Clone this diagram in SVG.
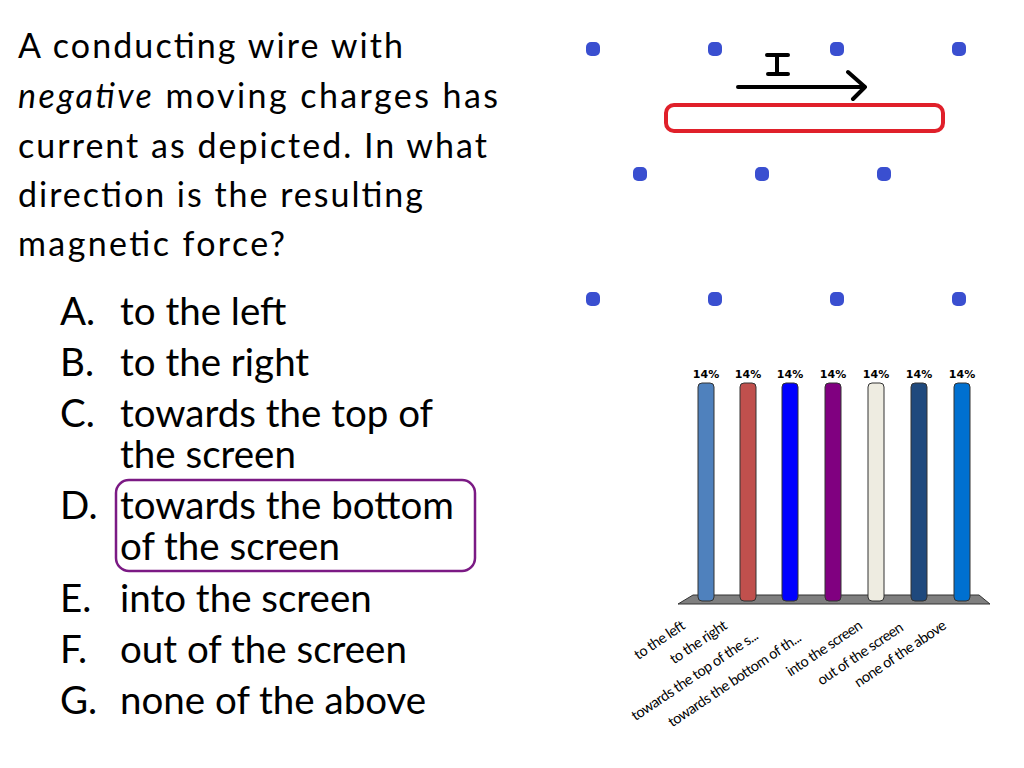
<svg xmlns="http://www.w3.org/2000/svg" width="1024" height="768" viewBox="0 0 1024 768">
<style>
.t{font-family:Lato,"Liberation Sans",sans-serif;font-size:34px;fill:#000}
.o{font-family:Lato,"Liberation Sans",sans-serif;font-size:38.5px;fill:#000}
.p{font-family:"DejaVu Sans",sans-serif;font-size:11px;font-weight:bold;text-anchor:middle}
.l{font-family:Lato,"Liberation Sans",sans-serif;font-size:14.5px;text-anchor:end;letter-spacing:-0.5px}
.d{fill:#3a4fd0}
.b{stroke:#333;stroke-width:1}
</style>
<rect width="1024" height="768" fill="#fff"/>
<g id="question">
<text class="t" x="18" y="58" textLength="385">A conducting wire with</text>
<text class="t" x="18" y="108" textLength="480"><tspan font-style="italic">negative</tspan> moving charges has</text>
<text class="t" x="18" y="158" textLength="469">current as depicted. In what</text>
<text class="t" x="18" y="207" textLength="405">direction is the resulting</text>
<text class="t" x="18" y="256" textLength="267">magnetic force?</text>
</g>
<g id="options">
<text class="o" x="60" y="325">A.</text><text class="o" x="120" y="325">to the left</text>
<text class="o" x="60" y="376">B.</text><text class="o" x="120" y="376">to the right</text>
<text class="o" x="60" y="427">C.</text><text class="o" x="120" y="427">towards the top of</text>
<text class="o" x="120" y="468">the screen</text>
<text class="o" x="60" y="519">D.</text><text class="o" x="120" y="519">towards the bottom</text>
<text class="o" x="120" y="560">of the screen</text>
<text class="o" x="60" y="612">E.</text><text class="o" x="120" y="612">into the screen</text>
<text class="o" x="60" y="663">F.</text><text class="o" x="120" y="663">out of the screen</text>
<text class="o" x="60" y="714">G.</text><text class="o" x="120" y="714">none of the above</text>
<rect x="116" y="480" width="359" height="91" rx="13" fill="none" stroke="#7b1a84" stroke-width="2.5"/>
</g>
<g id="field">
<rect class="d" x="586" y="42" width="14" height="14" rx="5"/>
<rect class="d" x="708" y="42" width="14" height="14" rx="5"/>
<rect class="d" x="830" y="42" width="14" height="14" rx="5"/>
<rect class="d" x="952" y="42" width="14" height="14" rx="5"/>
<rect class="d" x="633" y="167" width="14" height="14" rx="5"/>
<rect class="d" x="755" y="167" width="14" height="14" rx="5"/>
<rect class="d" x="877" y="167" width="14" height="14" rx="5"/>
<rect class="d" x="586" y="292" width="14" height="14" rx="5"/>
<rect class="d" x="708" y="292" width="14" height="14" rx="5"/>
<rect class="d" x="830" y="292" width="14" height="14" rx="5"/>
<rect class="d" x="952" y="292" width="14" height="14" rx="5"/>
<rect x="666" y="105" width="277" height="26" rx="8" fill="none" stroke="#e0202a" stroke-width="4"/>
<path d="M738,87 H865 M848,72 L865,87 L853,99" fill="none" stroke="#000" stroke-width="4" stroke-linecap="round" stroke-linejoin="round"/>
<path d="M767,55 H788 M777,55 V74 M768,74 H788" fill="none" stroke="#000" stroke-width="4" stroke-linecap="round"/>
</g>
<g id="chart">
<polygon points="693,595 979,595 990,604 678,604" fill="#7f7f7f" stroke="#333" stroke-width="1"/>
<rect class="b" x="698" y="383" width="16" height="218" rx="4" fill="#4f81bd"/>
<rect class="b" x="740" y="383" width="16" height="218" rx="4" fill="#c0504d"/>
<rect class="b" x="782" y="383" width="16" height="218" rx="4" fill="#0000ff"/>
<rect class="b" x="825" y="383" width="16" height="218" rx="4" fill="#800080"/>
<rect class="b" x="868" y="383" width="16" height="218" rx="4" fill="#eeece1"/>
<rect class="b" x="911" y="383" width="16" height="218" rx="4" fill="#1f497d"/>
<rect class="b" x="954" y="383" width="16" height="218" rx="4" fill="#0070d0"/>
<text class="p" x="706" y="378">14%</text>
<text class="p" x="748" y="378">14%</text>
<text class="p" x="790" y="378">14%</text>
<text class="p" x="833" y="378">14%</text>
<text class="p" x="876" y="378">14%</text>
<text class="p" x="919" y="378">14%</text>
<text class="p" x="962" y="378">14%</text>
<text class="l" transform="translate(686,628) rotate(-34)">to the left</text>
<text class="l" transform="translate(728,628) rotate(-34)">to the right</text>
<text class="l" transform="translate(759,638) rotate(-34)">towards the top of the s...</text>
<text class="l" transform="translate(802,640) rotate(-34)">towards the bottom of th...</text>
<text class="l" transform="translate(863,628) rotate(-34)">into the screen</text>
<text class="l" transform="translate(904,630) rotate(-34)">out of the screen</text>
<text class="l" transform="translate(947,628) rotate(-34)">none of the above</text>
</g>
</svg>
